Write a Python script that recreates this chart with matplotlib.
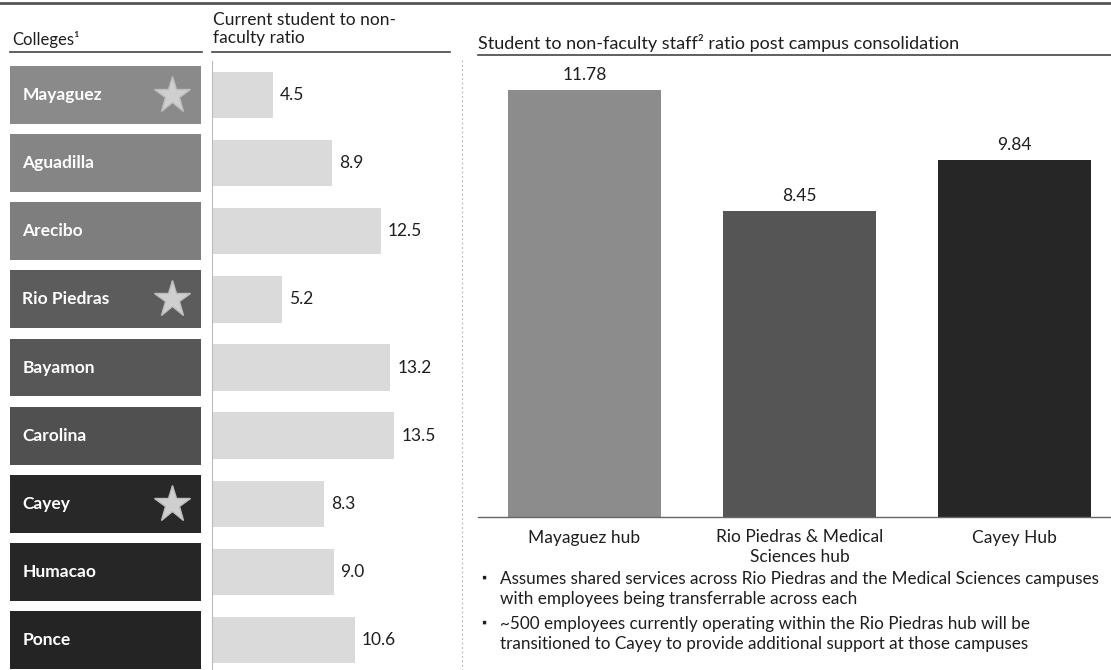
import matplotlib
matplotlib.use("Agg")
import matplotlib.pyplot as plt
from matplotlib.lines import Line2D

plt.rcParams['font.family'] = ['Lato', 'DejaVu Sans']

colleges = ["Mayaguez", "Aguadilla", "Arecibo", "Rio Piedras", "Bayamon",
            "Carolina", "Cayey", "Humacao", "Ponce"]
current_ratio = [4.5, 8.9, 12.5, 5.2, 13.2, 13.5, 8.3, 9.0, 10.6]
has_star = [True, False, False, True, False, False, True, False, False]
college_colors = ["#8a8a8a", "#858585", "#7e7e7e", "#5c5c5c", "#575757",
                  "#505050", "#282828", "#262626", "#242424"]

hubs = ["Mayaguez hub", "Rio Piedras & Medical\nSciences hub", "Cayey Hub"]
hub_ratio = [11.78, 8.45, 9.84]
hub_colors = ["#8c8c8c", "#555555", "#262626"]

notes = [
    "Assumes shared services across Rio Piedras and the Medical Sciences campuses\nwith employees being transferrable across each",
    "~500 employees currently operating within the Rio Piedras hub will be\ntransitioned to Cayey to provide additional support at those campuses",
]

W, H = 1111, 670
fig = plt.figure(figsize=(W / 100, H / 100), dpi=100)
fig.patch.set_facecolor("white")
TXT = "#1e1e1e"


def px_axes(x0, y0, x1, y1):
    # pixel box (top-left origin) -> figure axes
    return fig.add_axes([x0 / W, 1 - y1 / H, (x1 - x0) / W, (y1 - y0) / H])


def hline(x0, x1, y, **kw):
    fig.add_artist(Line2D([x0 / W, x1 / W], [1 - y / H, 1 - y / H], **kw))


def vline(x, y0, y1, **kw):
    fig.add_artist(Line2D([x / W, x / W], [1 - y0 / H, 1 - y1 / H], **kw))


n = len(colleges)
rows = list(range(n))

# college name boxes
ax_c = px_axes(10, 61, 201, 674)
ax_c.barh(rows, [1] * n, height=0.85, color=college_colors, left=0)
for i, name in enumerate(colleges):
    ax_c.text(0.065, i, name, color="white", fontsize=12.5, fontweight="bold",
              va="center", ha="left")
    if has_star[i]:
        ax_c.plot(0.85, i, marker="*", markersize=28, color="#cfcfcf",
                  markeredgecolor="#bdbdbd")
ax_c.set_xlim(0, 1)
ax_c.set_ylim(n - 0.5, -0.5)
ax_c.axis("off")

# current ratio bars
ax_r = px_axes(212, 61, 462, 674)
ax_r.barh(rows, current_ratio, height=0.68, color="#dadada")
for i, v in enumerate(current_ratio):
    ax_r.text(v + 0.5, i, f"{v:.1f}", fontsize=12.5, va="center", ha="left",
              color=TXT)
ax_r.set_xlim(0, 18.5)
ax_r.set_ylim(n - 0.5, -0.5)
for s in ["top", "right", "bottom"]:
    ax_r.spines[s].set_visible(False)
ax_r.spines["left"].set_color("#bbbbbb")
ax_r.spines["left"].set_linewidth(0.8)
ax_r.set_xticks([])
ax_r.set_yticks([])

# hub bars
ax_h = px_axes(478, 55, 1111, 517)
xs = list(range(len(hubs)))
ax_h.bar(xs, hub_ratio, width=0.712, color=hub_colors)
for x, v in zip(xs, hub_ratio):
    ax_h.text(x, v + 0.2, f"{v:.2f}", ha="center", va="bottom", fontsize=12.5,
              color=TXT)
ax_h.set_xlim(-0.495, 2.449)
ax_h.set_ylim(0, 12.75)
ax_h.set_xticks(xs)
ax_h.set_xticklabels(hubs, fontsize=12.5, color=TXT, linespacing=1.25)
ax_h.tick_params(axis="x", length=0, pad=9)
ax_h.set_yticks([])
for s in ["left", "right"]:
    ax_h.spines[s].set_visible(False)
ax_h.spines["top"].set_color("#444444")
ax_h.spines["top"].set_linewidth(1.2)
ax_h.spines["bottom"].set_color("#666666")
ax_h.spines["bottom"].set_linewidth(1.0)

# headers
fig.text(12 / W, 1 - 40 / H, "Colleges\u00b9", fontsize=12, color=TXT,
         va="center", ha="left")
fig.text(213 / W, 1 - 29 / H, "Current student to non-\nfaculty ratio",
         fontsize=12.5, color=TXT, va="center", ha="left", linespacing=1.15)
fig.text(478 / W, 1 - 43 / H,
         "Student to non-faculty staff\u00b2 ratio post campus consolidation",
         fontsize=13, color=TXT, va="center", ha="left")
hline(10, 202, 52, color="#444444", lw=1.2)
hline(212, 450, 52, color="#444444", lw=1.2)
hline(0, W, 3, color="#555555", lw=2)
vline(462, 60, H, color="#b0b0b0", lw=0.8, ls=(0, (1.5, 2.5)))

# notes
y = 589
for note in notes:
    fig.text(481 / W, 1 - (y - 11) / H, "\u25aa", fontsize=9, color=TXT,
             va="center", ha="left")
    fig.text(500 / W, 1 - y / H, note, fontsize=12.3, color=TXT,
             va="center", ha="left", linespacing=1.25)
    y += 45

fig.savefig("out.png", dpi=100, facecolor="white")
